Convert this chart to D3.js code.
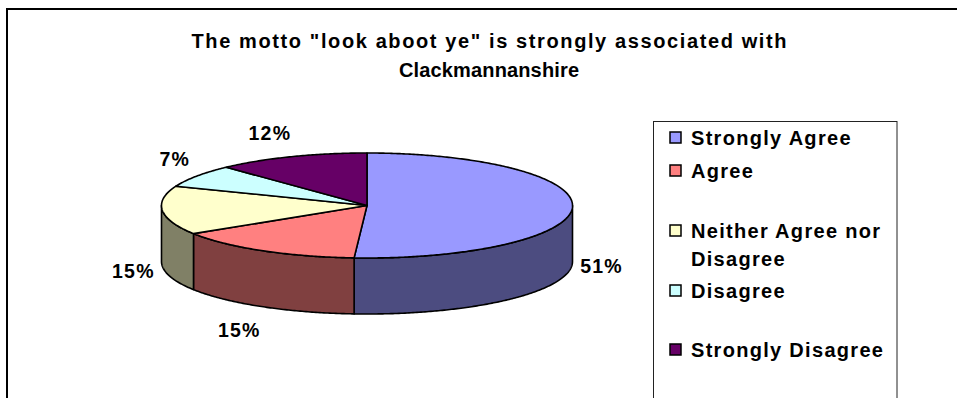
<!DOCTYPE html>
<html>
<head>
<meta charset="utf-8">
<script src="https://cdn.jsdelivr.net/npm/d3@7"></script>
<style>
  html, body { margin: 0; padding: 0; background: #fff; }
  svg { display: block; }
  text { font-family: "Liberation Sans", Arial, sans-serif; font-weight: bold; fill: #000; }
</style>
</head>
<body>
<svg id="chart" width="957" height="398"></svg>
<script>
// Survey answers
const categories = ["Strongly Agree", "Agree", "Neither Agree nor Disagree", "Disagree", "Strongly Disagree"];
const values = [51, 15, 15, 7, 12];
const titleLines = ["The motto \"look aboot ye\" is strongly associated with", "Clackmannanshire"];
const legendLines = [["Strongly Agree"], ["Agree"], ["Neither Agree nor", "Disagree"], ["Disagree"], ["Strongly Disagree"]];

// Slice colours: top face and darker wall
const topColors = ["#9999FF", "#FF8080", "#FFFFCC", "#CCFFFF", "#660066"];
const sideColors = ["#4C4C80", "#804040", "#808066", "#668080", "#330033"];

const svg = d3.select("#chart");
const W = 957, H = 398;

// Outer chart frame
svg.append("rect")
  .attr("x", 7).attr("y", 9).attr("width", W + 10).attr("height", H + 10)
  .attr("fill", "#fff").attr("stroke", "#000").attr("stroke-width", 2);

// Title (two centred lines, first one set wide)
const titleWidths = [595, 180];
svg.append("g").selectAll("text").data(titleLines).join("text")
  .attr("x", 489).attr("y", (d, i) => 48 + i * 29)
  .attr("text-anchor", "middle")
  .attr("textLength", (d, i) => titleWidths[i])
  .attr("lengthAdjust", "spacing")
  .style("font-size", "20px")
  .text(d => d);

// 3D pie geometry
const cx = 367, cy = 205.5, rx = 205.5, ry = 52.5, depth = 56;
const pie = d3.pie().sort(null).value(d => d);
const arcs = pie(values);

const pt = (a, dy = 0) => [cx + rx * Math.sin(a), cy - ry * Math.cos(a) + dy];
const sample = (a0, a1, dy = 0) => {
  const n = Math.max(2, Math.ceil((a1 - a0) / 0.01));
  return d3.range(n + 1).map(i => pt(a0 + (a1 - a0) * i / n, dy));
};
const line = d3.line();
const pieG = svg.append("g");

// Walls on the near half of the disc
const walls = arcs.map((d, i) => {
  const a0 = Math.max(d.startAngle, Math.PI / 2), a1 = Math.min(d.endAngle, 3 * Math.PI / 2);
  return a1 > a0 ? { i, pts: sample(a0, a1).concat(sample(a0, a1, depth).reverse()) } : null;
}).filter(Boolean);

pieG.selectAll("path.wall").data(walls).join("path")
  .attr("class", "wall")
  .attr("d", d => line(d.pts) + "Z")
  .attr("fill", d => sideColors[d.i])
  .attr("stroke", "#000").attr("stroke-width", 1.6).attr("stroke-linejoin", "round");

// Top faces
pieG.selectAll("path.top").data(arcs).join("path")
  .attr("class", "top")
  .attr("d", d => line([[cx, cy]].concat(sample(d.startAngle, d.endAngle))) + "Z")
  .attr("fill", (d, i) => topColors[i])
  .attr("stroke", "#000").attr("stroke-width", 1.6).attr("stroke-linejoin", "round");

// Percentage labels outside each slice
const lrx = rx + 12;
pieG.selectAll("text.lbl").data(arcs).join("text")
  .attr("class", "lbl")
  .style("font-size", "19.5px").style("letter-spacing", "1.2px")
  .attr("text-anchor", "middle")
  .text(d => d.data + "%")
  .each(function (d) {
    const a = (d.startAngle + d.endAngle) / 2;
    const s = Math.sin(a), c = Math.cos(a);
    const w = this.getComputedTextLength(), h = 14;
    const front = c < 0;
    const lry = ry + (front ? 25 : 18);
    const x = cx + lrx * s + Math.sign(s) * w * 0.4;
    const yc = cy - lry * c + (front ? depth + h / 2 - 5 : -h / 2);
    d3.select(this).attr("x", x).attr("y", yc + h / 2);
  });

// Legend
const lg = svg.append("g");
lg.append("rect")
  .attr("x", 653.5).attr("y", 121.5).attr("width", 243.5).attr("height", H)
  .attr("fill", "#fff").attr("stroke", "#222").attr("stroke-width", 1);
const rowY = [138, 171, 231, 291, 350];
const items = lg.selectAll("g.item").data(categories).join("g")
  .attr("class", "item")
  .attr("transform", (d, i) => `translate(0,${rowY[i]})`);
items.append("rect")
  .attr("x", 670).attr("y", -6).attr("width", 11).attr("height", 11)
  .attr("fill", (d, i) => topColors[i]).attr("stroke", "#000").attr("stroke-width", 1.5);
items.each(function (d, i) {
  d3.select(this).selectAll("text").data(legendLines[i]).join("text")
    .attr("x", 691).attr("y", (t, j) => 7 + j * 28)
    .style("font-size", "20px").style("letter-spacing", "1.3px")
    .text(t => t);
});
</script>
</body>
</html>
